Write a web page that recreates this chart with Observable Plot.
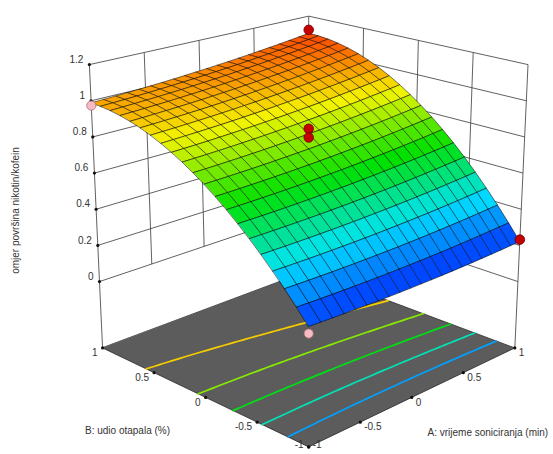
<!DOCTYPE html>
<html>
<head>
<meta charset="utf-8">
<script src="https://cdn.jsdelivr.net/npm/d3@7"></script>
<script src="https://cdn.jsdelivr.net/npm/@observablehq/plot@0.6"></script>
<style>
  html, body { margin: 0; padding: 0; background: #fff; }
  #chart svg { display: block; }
</style>
</head>
<body>
<div id="chart"></div>
<script>
// ---------------- data ----------------
const zTicks = [0, 0.2, 0.4, 0.6, 0.8, 1, 1.2];
const zTickLabels = ["0", "0.2", "0.4", "0.6", "0.8", "1", "1.2"];
const aTicks = [-1, -0.5, 0, 0.5, 1];
const aTickLabels = ["-1", "-0.5", "0", "0.5", "1"];
const bTicks = [-1, -0.5, 0, 0.5, 1];
const bTickLabels = ["-1", "-0.5", "0", "0.5", "1"];
const zRange = [-0.367, 1.2];              // floor level, top of box
const axisTitles = ["A: vrijeme soniciranja (min)", "B: udio otapala (%)", "omjer površina nikotin/kofein"];

// fitted response-surface model (coded factors A, B)
const modelTerms = ["1", "A", "B", "AB", "A2", "B2", "AB2"];
const modelCoef  = [0.834, 0.04, 0.401, 0.0265, 0.015, -0.2, -0.0165];

// design points
const designA = [-1, 1, 1, -1, 0, 0];
const designB = [1, 1, -1, -1, 0, 0];
const designZ = [0.985, 1.12, 0.255, 0.215, 0.862, 0.815];
const designSide = ["below", "above", "above", "below", "above", "above"];

// contour levels drawn on the floor
const contourLevels = [0.378, 0.522, 0.667, 0.811, 0.956];

// colour ramp of the surface
const colorDomain = [0.23, 0.4575, 0.685, 0.9125, 1.14];
const colorRange = ["#0024ff", "#00e4ff", "#00e000", "#f4f400", "#ff2400"];

// ---------------- geometry ----------------
const W = 553, H = 454;
const MESH = 20;
const cam = {cx: 308.2, cy: -347.2, F: 145.75, a: 0.0384, Wd: 0.0877, Ws: 0.002497, Kc: 1.349, z0: 3.166};
const termFn = {"1": () => 1, "A": (A) => A, "B": (A, B) => B, "AB": (A, B) => A * B,
  "A2": (A) => A * A, "B2": (A, B) => B * B, "AB2": (A, B) => A * B * B};
function model(A, B) {
  let s = 0;
  modelTerms.forEach((t, i) => { s += modelCoef[i] * termFn[t](A, B); });
  return s;
}
function project(A, B, z) {
  const u = (A - B) / Math.SQRT2, w = (A + B) / Math.SQRT2;
  const dc = 1 - cam.a * (z - zRange[0]) + cam.Wd * w;
  const yc = cam.Kc * (z - cam.z0) + cam.Ws * w;
  return {x: cam.cx + cam.F * u / dc, y: cam.cy - cam.F * yc / dc, d: dc};
}
const lerp = (p, q, t) => ({x: p.x + (q.x - p.x) * t, y: p.y + (q.y - p.y) * t});
const zF = zRange[0], zT = zRange[1];
const tz = z => (z - zF) / (zT - zF);
const L0 = project(-1, 1, zF), L1 = project(-1, 1, zT);
const K0 = project(1, 1, zF), K1 = project(1, 1, zT);
const R0 = project(1, -1, zF), R1 = project(1, -1, zT);
const F0 = project(-1, -1, zF);

// walls
const wallLines = [];
const seg = (p, q) => wallLines.push({x1: p.x, y1: p.y, x2: q.x, y2: q.y});
seg(L0, L1); seg(K0, K1); seg(R0, R1);
zTicks.forEach(z => {
  const a = lerp(L0, L1, tz(z)), b = lerp(K0, K1, tz(z)), c = lerp(R0, R1, tz(z));
  seg(a, b); seg(b, c);
});
const Lb = lerp(L0, L1, tz(zTicks[0])), Kb = lerp(K0, K1, tz(zTicks[0])), Rb = lerp(R0, R1, tz(zTicks[0]));
aTicks.slice(1, -1).forEach(v => {
  const t = (v + 1) / 2;
  seg(lerp(Lb, Kb, t), lerp(L1, K1, t));
});
bTicks.slice(1, -1).forEach(v => {
  const t = (1 - v) / 2;
  seg(lerp(Kb, Rb, t), lerp(K1, R1, t));
});

// floor
const floorPoly = [L0, F0, R0, K0].map(p => ({x: p.x, y: p.y, id: "floor"}));

// contours on the floor
const contourRows = [];
contourLevels.forEach(level => {
  for (let i = 0; i <= 60; i++) {
    const A = -1 + 2 * i / 60;
    let lo = -1, hi = 1;
    if (model(A, lo) > level || model(A, hi) < level) continue;
    for (let k = 0; k < 40; k++) {
      const m = (lo + hi) / 2;
      if (model(A, m) < level) lo = m; else hi = m;
    }
    const p = project(A, (lo + hi) / 2, zF);
    contourRows.push({x: p.x, y: p.y, level});
  }
});

// surface mesh
const cells = [];
for (let i = 0; i < MESH; i++) {
  for (let j = 0; j < MESH; j++) {
    const corners = [[i, j], [i + 1, j], [i + 1, j + 1], [i, j + 1]].map(([a, b]) => {
      const A = -1 + 2 * a / MESH, B = -1 + 2 * b / MESH, z = model(A, B);
      return {...project(A, B, z), z};
    });
    cells.push({corners, d: d3.mean(corners, c => c.d), zval: d3.mean(corners, c => c.z)});
  }
}
cells.sort((p, q) => q.d - p.d);
const surfaceRows = [];
cells.forEach((c, k) => c.corners.forEach(p => surfaceRows.push({x: p.x, y: p.y, cell: k, zval: c.zval})));

// ticks
const tickDots = [], tickText = [];
zTicks.forEach((z, i) => {
  const p = lerp(L0, L1, tz(z));
  tickDots.push(p);
  tickText.push({x: p.x - 6, y: p.y - 5, text: zTickLabels[i], anchor: "end"});
});
bTicks.forEach((b, i) => {
  const p = lerp(L0, F0, (1 - b) / 2);
  tickDots.push(p);
  tickText.push({x: p.x - 5, y: Math.min(p.y + 5, 444), text: bTickLabels[i], anchor: "end"});
});
aTicks.forEach((a, i) => {
  const p = lerp(F0, R0, (a + 1) / 2);
  tickDots.push(p);
  tickText.push({x: p.x + 4, y: Math.min(p.y + 5, 444), text: aTickLabels[i], anchor: "start"});
});

// design points
const design = designA.map((A, i) => ({...project(A, designB[i], designZ[i]), side: designSide[i]}));

const font = "Liberation Sans, Arial, sans-serif";
const chart = Plot.plot({
  width: W, height: H,
  margin: 0,
  x: {domain: [0, W], range: [0, W], axis: null},
  y: {domain: [0, H], range: [0, H], axis: null},
  color: {type: "linear", domain: colorDomain, range: colorRange, interpolate: "rgb", clamp: true},
  style: {fontFamily: font, background: "#fff", overflow: "visible"},
  marks: [
    Plot.link(wallLines, {x1: "x1", y1: "y1", x2: "x2", y2: "y2", stroke: "#444", strokeWidth: 0.85}),
    Plot.line(floorPoly, {x: "x", y: "y", z: "id", fill: "#5c5c5c", stroke: "#2a2a2a", strokeWidth: 0.8, curve: "linear-closed"}),
    Plot.line(contourRows, {x: "x", y: "y", z: "level", stroke: "level", strokeWidth: 1.7}),
    Plot.line(surfaceRows, {x: "x", y: "y", z: "cell", fill: "zval", stroke: "#000", strokeOpacity: 0.62, strokeWidth: 0.85, curve: "linear-closed"}),
    Plot.dot(tickDots, {x: "x", y: "y", r: 1.6, fill: "#111", stroke: null}),
    Plot.text(tickText.filter(d => d.anchor === "end"), {x: "x", y: "y", text: "text", textAnchor: "end", fontSize: 10, fill: "#333"}),
    Plot.text(tickText.filter(d => d.anchor === "start"), {x: "x", y: "y", text: "text", textAnchor: "start", fontSize: 10, fill: "#333"}),
    Plot.dot(design.filter(d => d.side === "below"), {x: "x", y: "y", r: 4.6, fill: "#f6bcc4", stroke: "#a86c74", strokeWidth: 0.8}),
    Plot.dot(design.filter(d => d.side === "above"), {x: "x", y: "y", r: 4.8, fill: "#c40000", stroke: "#700000", strokeWidth: 0.8}),
    Plot.text([{x: 427, y: 432}], {x: "x", y: "y", text: () => axisTitles[0], textAnchor: "start", fontSize: 10, fill: "#333"}),
    Plot.text([{x: 127, y: 430}], {x: "x", y: "y", text: () => axisTitles[1], textAnchor: "middle", fontSize: 10, fill: "#333"}),
    Plot.text([{x: 15, y: 210}], {x: "x", y: "y", text: () => axisTitles[2], rotate: -90, textAnchor: "middle", fontSize: 10, fill: "#333"})
  ]
});
document.getElementById("chart").appendChild(chart);
</script>
</body>
</html>
